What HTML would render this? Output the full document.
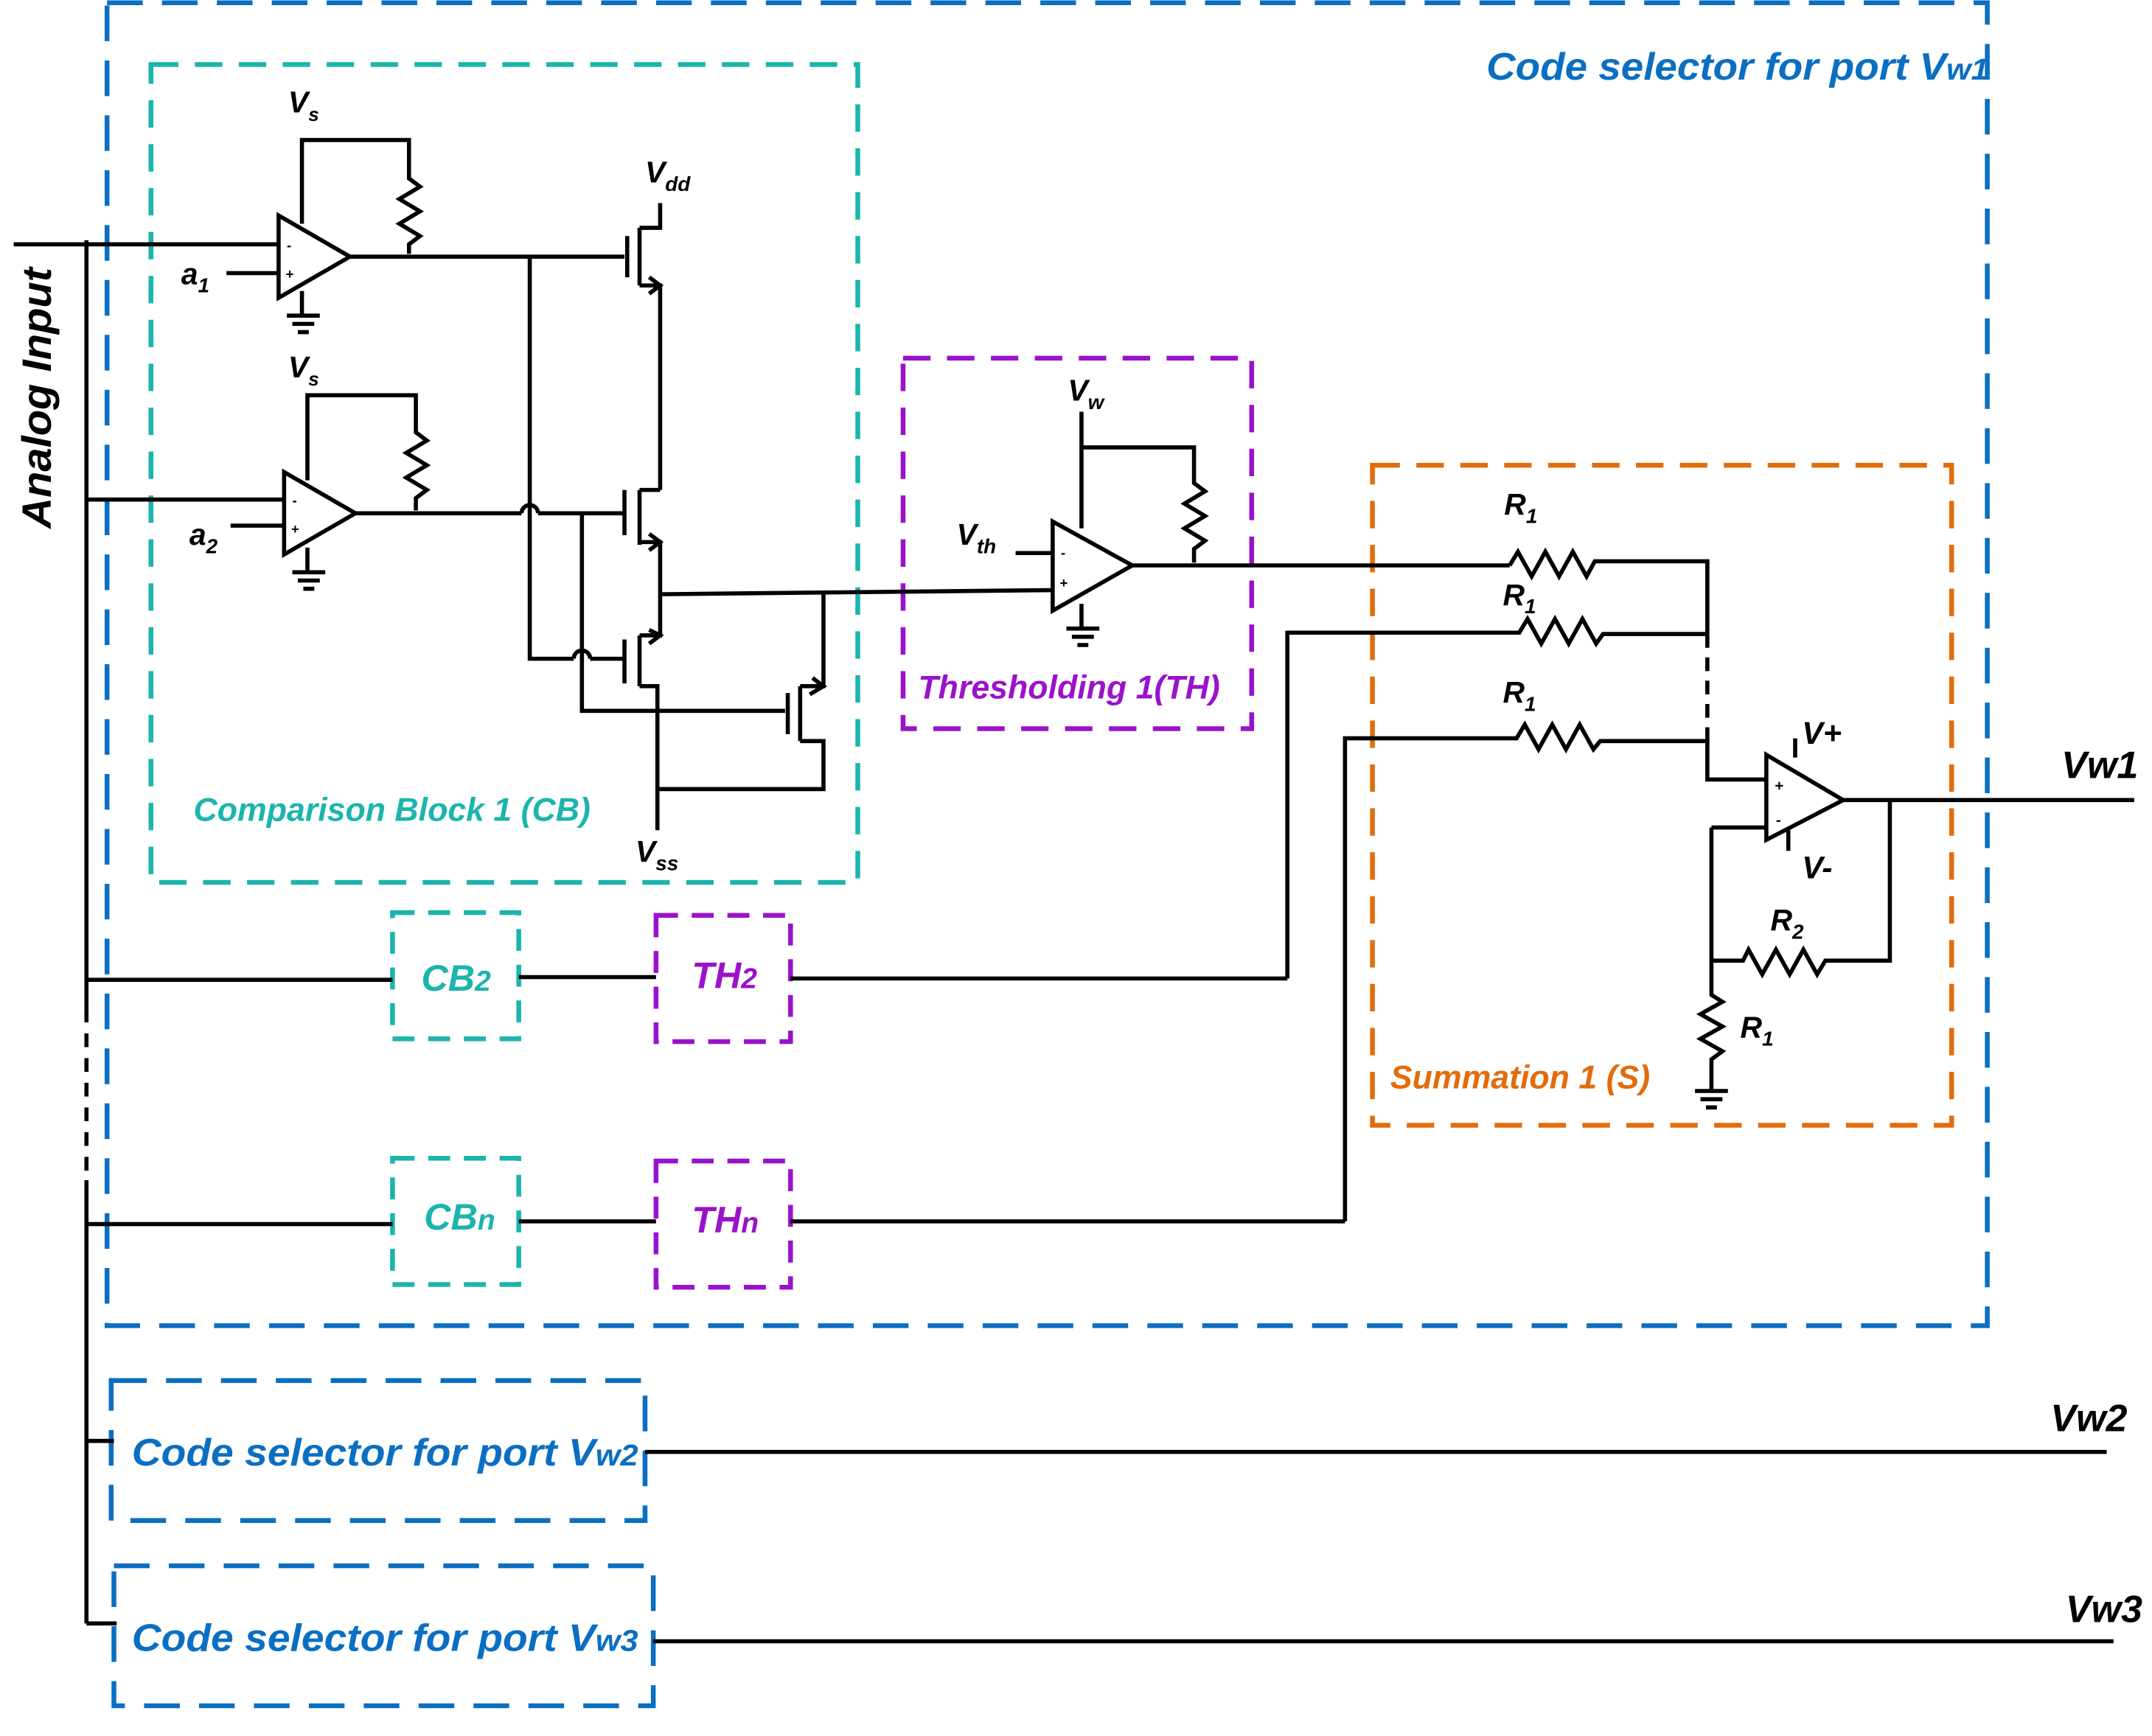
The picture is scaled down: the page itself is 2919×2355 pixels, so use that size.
<!DOCTYPE html>
<html><head><meta charset="utf-8"><style>
html,body{margin:0;padding:0;background:#fff}
svg{display:block}
text{font-family:"Liberation Sans",sans-serif;font-weight:bold;font-style:italic}
</style></head><body>
<svg width="2919" height="2355" viewBox="0 0 1568 1265" xmlns="http://www.w3.org/2000/svg">
<g fill="none" stroke-width="3.5" stroke-dasharray="26 14">
<rect x="78" y="2" width="1370" height="964" stroke="#0a6fc2"/>
<rect x="110" y="47" width="515" height="596" stroke="#1bb5ad" stroke-dasharray="20 12"/>
<rect x="658" y="261" width="254" height="270" stroke="#9a12cc" stroke-dasharray="20 12"/>
<rect x="1000" y="339" width="422" height="481" stroke="#e36c0a" stroke-dasharray="20 12"/>
<rect x="286" y="665" width="92" height="92" stroke="#1bb5ad" stroke-dasharray="16 10"/>
<rect x="478" y="667" width="98" height="92" stroke="#9a12cc" stroke-dasharray="16 10"/>
<rect x="286" y="844" width="92" height="92" stroke="#1bb5ad" stroke-dasharray="16 10"/>
<rect x="478" y="846" width="98" height="92" stroke="#9a12cc" stroke-dasharray="16 10"/>
<rect x="81" y="1006" width="389" height="102" stroke="#0a6fc2"/>
<rect x="83" y="1141" width="393" height="102" stroke="#0a6fc2"/>
</g>
<g fill="none" stroke="#000" stroke-width="3">
<path d="M10 178H203M63 175V735M63 860V1183M63 364H207M63 714H286M63 892H286M63 1050H83M63 1183H85"/>
<path d="M63 735V860" stroke-dasharray="10 8"/>
<path d="M203 157L255 187L203 217Z"/>
<path d="M165 199H203M220 163V102H298V130L306 136L291 145L306 154L291 163L306 172L298 178V185M255 187H455"/>
<path d="M220 212V230M209 230H233M213 236H229M217 242H225"/>
<path d="M207 344L259 374L207 404Z"/>
<path d="M168 383H207M224 350V288H303V315L311 321L296 330L311 339L296 348L311 357L303 363V372M259 374H380M392 374H455"/>
<path d="M380 374A6 6 0 0 1 392 374"/>
<path d="M224 399V417M213 417H237M217 423H233M221 429H229"/>
<path d="M457 172V202M466 166V208M466 166H481V148M466 208H481V357M473 202L481 208L473 214"/>
<path d="M386 187V480H418M430 480H455M418 480A6 6 0 0 1 430 480"/>
<path d="M455 357V390M466 357V397M466 357H481M466 395H481V433M473 389L481 395L473 401"/>
<path d="M424 374V518H572"/>
<path d="M455 466V498M466 463V500M466 463H481V433M466 500H479V605M473 469L481 463L473 459"/>
<path d="M574 505V535M583 500V540M583 500H600V433M583 540H600V575H479M590 506L600 500L592 494"/>
<path d="M481 433L767 430"/>
<path d="M767 380L825 412L767 445Z"/>
<path d="M740 403H767M788 385V300M788 326H870V352L878 358L863 367L878 376L863 385L878 394L870 400V410M825 412H1100"/>
<path d="M788 440V458M777 458H801M781 464H797M785 470H793"/>
<path d="M1100 412L1106 402L1116 420L1126 402L1136 420L1146 402L1156 420L1162 409H1244V462"/>
<path d="M938 713V461H1107L1113 451L1123 469L1133 451L1143 469L1153 451L1163 469L1168 462H1244"/>
<path d="M576 713H938"/>
<path d="M1244 462V540" stroke-dasharray="10 7"/>
<path d="M980 890V538H1105L1111 528L1121 546L1131 528L1141 546L1151 528L1161 546L1166 540H1244V568H1287"/>
<path d="M576 890H980M378 712H478M378 890H478"/>
<path d="M1287 550L1343 583L1287 612Z"/>
<path d="M1308 552V538M1303 605V620M1343 583H1555M1377 583V700H1330L1324 710L1314 692L1304 710L1294 692L1284 710L1274 692L1270 700H1247M1247 603H1287M1247 603V725L1255 730L1239 739L1255 748L1239 757L1255 766L1247 772V795M1235 795H1259M1239 801H1255M1243 807H1251"/>
<path d="M470 1058H1535M476 1196H1540"/>
</g>
<g fill="#000" font-size="22">
<text x="210" y="82">V<tspan font-size="14" dy="6">s</tspan></text>
<text x="210" y="275">V<tspan font-size="14" dy="6">s</tspan></text>
<text x="470" y="133">V<tspan font-size="15" dy="6">dd</tspan></text>
<text x="463" y="628">V<tspan font-size="15" dy="6">ss</tspan></text>
<text x="132" y="207">a<tspan font-size="15" dy="6">1</tspan></text>
<text x="138" y="397">a<tspan font-size="15" dy="6">2</tspan></text>
<text x="778" y="292">V<tspan font-size="15" dy="6">w</tspan></text>
<text x="697" y="397">V<tspan font-size="15" dy="6">th</tspan></text>
<text x="1096" y="375">R<tspan font-size="15" dy="6">1</tspan></text>
<text x="1095" y="441">R<tspan font-size="15" dy="6">1</tspan></text>
<text x="1095" y="512">R<tspan font-size="15" dy="6">1</tspan></text>
<text x="1290" y="678">R<tspan font-size="15" dy="6">2</tspan></text>
<text x="1268" y="756">R<tspan font-size="15" dy="6">1</tspan></text>
<text x="1313" y="542" font-size="23">V+</text>
<text x="1313" y="640" font-size="23">V-</text>
<text x="1502" y="567" font-size="28">Vw1</text>
<text x="1494" y="1043" font-size="28">Vw2</text>
<text x="1505" y="1182" font-size="28">Vw3</text>
<text font-size="10" font-style="normal" x="209" y="182">-</text>
<text font-size="10" font-style="normal" x="208" y="203">+</text>
<text font-size="10" font-style="normal" x="213" y="368">-</text>
<text font-size="10" font-style="normal" x="212" y="389">+</text>
<text font-size="10" font-style="normal" x="773" y="406">-</text>
<text font-size="10" font-style="normal" x="772" y="428">+</text>
<text font-size="11" font-style="normal" x="1293" y="576">+</text>
<text font-size="11" font-style="normal" x="1294" y="601">-</text>
<text x="37" y="385" font-size="30" textLength="190" lengthAdjust="spacingAndGlyphs" transform="rotate(-90 37 385)">Analog Input</text>
</g>
<g font-size="24">
<text x="1083" y="58" fill="#0a6fc2" font-size="28" textLength="366" lengthAdjust="spacingAndGlyphs">Code selector for port V<tspan font-size="22">w1</tspan></text>
<text x="96" y="1068" fill="#0a6fc2" font-size="28" textLength="369" lengthAdjust="spacingAndGlyphs">Code selector for port V<tspan font-size="22">w2</tspan></text>
<text x="96" y="1203" fill="#0a6fc2" font-size="28" textLength="369" lengthAdjust="spacingAndGlyphs">Code selector for port V<tspan font-size="22">w3</tspan></text>
<text x="141" y="598" fill="#1bb5ad">Comparison Block 1 (CB)</text>
<text x="669" y="509" fill="#9a12cc">Thresholding 1(TH)</text>
<text x="1013" y="793" fill="#e36c0a">Summation 1 (S)</text>
<text x="307" y="722" fill="#1bb5ad" font-size="27">CB<tspan font-size="21">2</tspan></text>
<text x="504" y="720" fill="#9a12cc" font-size="27">TH<tspan font-size="21">2</tspan></text>
<text x="309" y="896" fill="#1bb5ad" font-size="27">CB<tspan font-size="21">n</tspan></text>
<text x="504" y="898" fill="#9a12cc" font-size="27">TH<tspan font-size="21">n</tspan></text>
</g>
</svg>
</body></html>
